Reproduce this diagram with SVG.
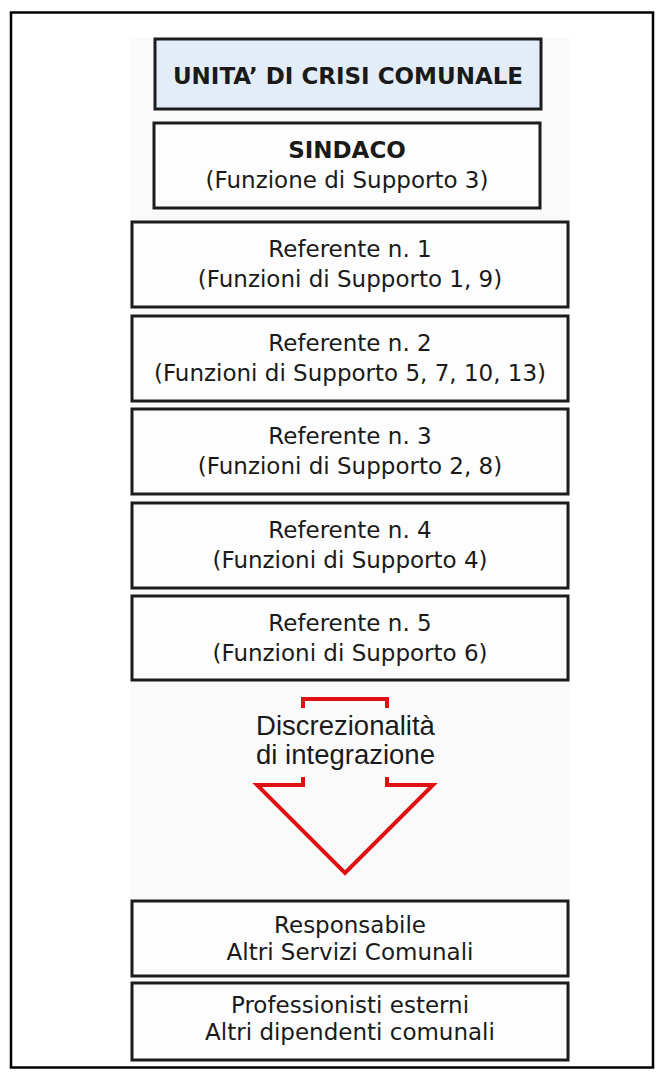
<svg xmlns="http://www.w3.org/2000/svg" width="656" height="1072" viewBox="0 0 656 1072">
<style>
.box{fill:#fdfdfd;stroke:#1c1c1c;stroke-width:3}
.hdr{fill:#e2edf8;stroke:#1c1c1c;stroke-width:3}
.t{font-family:"DejaVu Sans",Verdana,sans-serif;font-size:23px;fill:#1a1a1a;text-anchor:middle}
.b{font-weight:bold}
.ar{fill:none;stroke:#e01010;stroke-width:4;stroke-linejoin:miter}
.at{font-family:"Liberation Sans",Arial,sans-serif;font-size:27.5px;fill:#1a1a1a;text-anchor:middle}
</style>
<rect x="0" y="0" width="656" height="1072" fill="#ffffff"/>
<rect x="11" y="12.5" width="642" height="1055" fill="none" stroke="#000" stroke-width="2.5"/>
<rect x="130" y="37" width="440" height="1025" fill="#fafafa"/>
<g id="unita">
<rect class="hdr" x="155" y="39" width="386" height="70"/>
<text class="t b" x="348" y="83.5">UNITA’ DI CRISI COMUNALE</text>
</g>
<g id="sindaco">
<rect class="box" x="154" y="123" width="386" height="85"/>
<text class="t b" x="347" y="158">SINDACO</text>
<text class="t" x="347" y="188">(Funzione di Supporto 3)</text>
</g>
<g id="ref1">
<rect class="box" x="132" y="222" width="436" height="85"/>
<text class="t" x="350" y="257">Referente n. 1</text>
<text class="t" x="350" y="287">(Funzioni di Supporto 1, 9)</text>
</g>
<g id="ref2">
<rect class="box" x="132" y="316" width="436" height="85"/>
<text class="t" x="350" y="351">Referente n. 2</text>
<text class="t" x="350" y="381">(Funzioni di Supporto 5, 7, 10, 13)</text>
</g>
<g id="ref3">
<rect class="box" x="132" y="409" width="436" height="85"/>
<text class="t" x="350" y="444">Referente n. 3</text>
<text class="t" x="350" y="474">(Funzioni di Supporto 2, 8)</text>
</g>
<g id="ref4">
<rect class="box" x="132" y="503" width="436" height="85"/>
<text class="t" x="350" y="538">Referente n. 4</text>
<text class="t" x="350" y="568">(Funzioni di Supporto 4)</text>
</g>
<g id="ref5">
<rect class="box" x="132" y="596" width="436" height="84"/>
<text class="t" x="350" y="631">Referente n. 5</text>
<text class="t" x="350" y="661">(Funzioni di Supporto 6)</text>
</g>
<g id="arrow">
<path class="ar" d="M303,708 V699 H387 V708"/>
<path class="ar" d="M303,777 V785 H257 L345,873 L433,785 H387 V777"/>
<text class="at" x="345.5" y="735">Discrezionalità</text>
<text class="at" x="345.5" y="764">di integrazione</text>
</g>
<g id="responsabile">
<rect class="box" x="132" y="901" width="436" height="75"/>
<text class="t" x="350" y="933">Responsabile</text>
<text class="t" x="350" y="960">Altri Servizi Comunali</text>
</g>
<g id="professionisti">
<rect class="box" x="132" y="983" width="436" height="77"/>
<text class="t" x="350" y="1013">Professionisti esterni</text>
<text class="t" x="350" y="1040">Altri dipendenti comunali</text>
</g>
<g id="connectors"></g>
</svg>
